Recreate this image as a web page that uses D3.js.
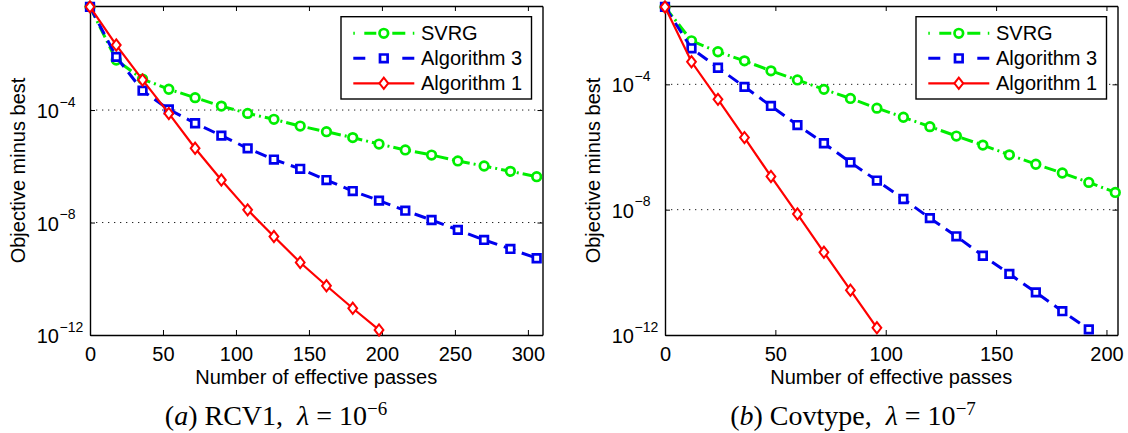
<!DOCTYPE html>
<html>
<head>
<meta charset="utf-8">
<script src="https://cdn.jsdelivr.net/npm/d3@7"></script>
<style>
  body { margin: 0; background: #fff; }
  svg { display: block; font-family: "Liberation Sans", Arial, sans-serif; }
</style>
</head>
<body>
<svg id="chart" width="1128" height="433"></svg>
<script>
// values: x = effective passes, y = log10(objective - best)
var rcv1_passes = [0, 18, 36, 54, 72, 90, 108, 126, 144, 162, 180, 198, 216, 234, 252, 270, 288, 306];
var rcv1_svrg = [-0.33, -2.22, -2.90, -3.26, -3.56, -3.86, -4.12, -4.33, -4.57, -4.77, -4.98, -5.21, -5.42, -5.60, -5.81, -5.99, -6.18, -6.37];
var rcv1_alg3 = [-0.33, -2.11, -3.31, -3.98, -4.47, -4.91, -5.36, -5.76, -6.09, -6.49, -6.88, -7.22, -7.58, -7.91, -8.26, -8.62, -8.94, -9.27];
var rcv1_alg1 = [-0.33, -1.69, -2.93, -4.12, -5.36, -6.49, -7.55, -8.50, -9.42, -10.25, -11.05, -11.82];

var cov_passes = [0, 12, 24, 36, 48, 60, 72, 84, 96, 108, 120, 132, 144, 156, 168, 180, 192, 204];
var cov_svrg = [-1.53, -2.61, -2.96, -3.25, -3.57, -3.86, -4.16, -4.45, -4.76, -5.05, -5.35, -5.65, -5.94, -6.25, -6.55, -6.83, -7.13, -7.45];
var cov_alg3 = [-1.53, -2.85, -3.47, -4.08, -4.69, -5.30, -5.88, -6.49, -7.07, -7.66, -8.27, -8.85, -9.47, -10.05, -10.64, -11.24, -11.82];
var cov_alg1 = [-1.53, -3.28, -4.48, -5.70, -6.94, -8.14, -9.36, -10.57, -11.77];

var rcv1_x_ticks = [0, 50, 100, 150, 200, 250, 300];
var cov_x_ticks = [0, 50, 100, 150, 200];
var y_ticks = [1e-12, 1e-8, 1e-4];
var y_tick_exps = ["\u221212", "\u22128", "\u22124"];
var grid_values = [1e-8, 1e-4];
var legend_names = ["SVRG", "Algorithm 3", "Algorithm 1"];

// look of each method (matlab-ish)
var styles = {
  "SVRG":        { color: "#00ee00", width: 3.0, dash: "12,4,2,4", legend_dash: "1.5,9.5,12,16,13,7.5,1.5", marker: "circle" },
  "Algorithm 3": { color: "#0000ee", width: 3.0, dash: "12,7",     legend_dash: "12,37",                   marker: "square" },
  "Algorithm 1": { color: "#ff0000", width: 2.2, dash: null,       legend_dash: null,                      marker: "diamond" }
};

var svg = d3.select("#chart");
svg.append("rect").attr("width", 1128).attr("height", 433).attr("fill", "#fff");

function marker_path(type) {
  if (type == "circle") return d3.symbol().type(d3.symbolCircle).size(Math.PI * 4.3 * 4.3)();
  if (type == "square") return "M-3.8,-3.8H3.8V3.8H-3.8Z";
  return "M0,-5.6L4.4,0L0,5.6L-4.4,0Z";
}

function draw_panel(p) {
  var x = d3.scaleLinear().domain([0, p.xmax]).range([p.left, p.right]);
  var y = d3.scaleLog().domain([1e-12, p.ytop]).range([p.bottom, p.top]);
  var g = svg.append("g");

  // dotted grid at the labelled decades
  g.selectAll(".grid").data(grid_values).enter().append("line")
    .attr("x1", p.left).attr("x2", p.right)
    .attr("y1", function(d) { return y(d); }).attr("y2", function(d) { return y(d); })
    .attr("stroke", "#222").attr("stroke-width", 1).attr("stroke-dasharray", "1.3,4.7");

  // box with inward ticks on all four sides
  var bottom = g.append("g").attr("transform", "translate(0," + p.bottom + ")")
    .call(d3.axisBottom(x).tickValues(p.xticks).tickSize(-5).tickSizeOuter(0).tickPadding(12));
  var top = g.append("g").attr("transform", "translate(0," + p.top + ")")
    .call(d3.axisTop(x).tickValues(p.xticks).tickSize(-5).tickSizeOuter(0).tickFormat(""));
  var left = g.append("g").attr("transform", "translate(" + p.left + ",0)")
    .call(d3.axisLeft(y).tickValues(y_ticks).tickSize(-5).tickSizeOuter(0).tickFormat(""));
  var right = g.append("g").attr("transform", "translate(" + p.right + ",0)")
    .call(d3.axisRight(y).tickValues(y_ticks).tickSize(-5).tickSizeOuter(0).tickFormat(""));

  [bottom, top, left, right].forEach(function(a) {
    a.select(".domain").attr("stroke", "#000").attr("stroke-width", 1.4);
    a.selectAll(".tick line").attr("stroke", "#000").attr("stroke-width", 1);
  });
  bottom.selectAll(".tick text")
    .attr("font-family", "Liberation Sans, Arial, sans-serif")
    .attr("font-size", 20).attr("fill", "#000");

  // 10^k labels on the log axis
  left.selectAll(".tick").each(function(d, i) {
    var t = d3.select(this);
    t.append("text").attr("x", -31).attr("y", 7.5).attr("text-anchor", "end")
      .attr("font-family", "Liberation Sans, Arial, sans-serif").attr("font-size", 20).attr("fill", "#000")
      .text("10");
    t.append("text").attr("x", -30.5).attr("y", -4).attr("text-anchor", "start")
      .attr("font-family", "Liberation Sans, Arial, sans-serif").attr("font-size", 14).attr("fill", "#000")
      .text(y_tick_exps[i]);
  });

  // axis titles
  g.append("text").attr("x", (p.left + p.right) / 2).attr("y", p.bottom + 49)
    .attr("text-anchor", "middle").attr("font-size", 20).text("Number of effective passes");
  g.append("text")
    .attr("transform", "translate(" + (p.left - 65.5) + "," + ((p.top + p.bottom) / 2) + ") rotate(-90)")
    .attr("text-anchor", "middle").attr("font-size", 20).text("Objective minus best");

  // series
  var line = d3.line()
    .x(function(d) { return x(d[0]); })
    .y(function(d) { return y(Math.pow(10, d[1])); });

  p.series.forEach(function(s) {
    var st = styles[s.name];
    var pts = s.values.map(function(v, i) { return [s.passes[i], v]; });
    g.append("path").datum(pts).attr("d", line)
      .attr("fill", "none").attr("stroke", st.color).attr("stroke-width", st.width)
      .attr("stroke-dasharray", st.dash);
    g.selectAll(null).data(pts).enter().append("path")
      .attr("d", marker_path(st.marker))
      .attr("transform", function(d) { return "translate(" + x(d[0]) + "," + y(Math.pow(10, d[1])) + ")"; })
      .attr("fill", "#fff").attr("stroke", st.color).attr("stroke-width", st.marker == "diamond" ? 2 : 2.7);
  });

  // legend
  var lx = p.right - 11 - 190.5, ly = 16.7;
  var lg = g.append("g").attr("transform", "translate(" + lx + "," + ly + ")");
  lg.append("rect").attr("width", 190.5).attr("height", 82.3)
    .attr("fill", "#fff").attr("stroke", "#000").attr("stroke-width", 1.4);
  legend_names.forEach(function(name, i) {
    var st = styles[name];
    var cy = 16.6 + i * 25;
    lg.append("line").attr("x1", 12.3).attr("x2", 73.3).attr("y1", cy).attr("y2", cy)
      .attr("stroke", st.color).attr("stroke-width", st.width)
      .attr("stroke-dasharray", st.legend_dash);
    lg.append("path").attr("d", marker_path(st.marker))
      .attr("transform", "translate(42.8," + cy + ")")
      .attr("fill", "#fff").attr("stroke", st.color).attr("stroke-width", st.marker == "diamond" ? 2 : 2.7);
    lg.append("text").attr("x", 80).attr("y", cy + 7).attr("font-size", 20).text(name);
  });

  // caption under the panel
  var cap = svg.append("text").attr("x", p.cap_x).attr("y", 425).attr("text-anchor", "middle")
    .attr("font-family", "Liberation Serif, Times New Roman, serif").attr("font-size", 28).attr("fill", "#000");
  cap.append("tspan").text("(");
  cap.append("tspan").attr("font-style", "italic").text(p.cap_letter);
  cap.append("tspan").text(") " + p.cap_name + ",\u00a0\u00a0");
  cap.append("tspan").attr("font-style", "italic").text("\u03bb");
  cap.append("tspan").text("\u00a0=\u00a010");
  cap.append("tspan").attr("font-size", 19).attr("dy", -10).text(p.cap_exp);
}

draw_panel({
  left: 90, right: 542.5, top: 6, bottom: 335, xmax: 310, ytop: Math.pow(10, -0.3),
  xticks: rcv1_x_ticks,
  series: [
    { name: "SVRG", passes: rcv1_passes, values: rcv1_svrg },
    { name: "Algorithm 3", passes: rcv1_passes, values: rcv1_alg3 },
    { name: "Algorithm 1", passes: rcv1_passes, values: rcv1_alg1 }
  ],
  cap_x: 276, cap_letter: "a", cap_name: "RCV1", cap_exp: "\u22126"
});

draw_panel({
  left: 665, right: 1117.5, top: 6, bottom: 335, xmax: 205, ytop: Math.pow(10, -1.5),
  xticks: cov_x_ticks,
  series: [
    { name: "SVRG", passes: cov_passes, values: cov_svrg },
    { name: "Algorithm 3", passes: cov_passes, values: cov_alg3 },
    { name: "Algorithm 1", passes: cov_passes, values: cov_alg1 }
  ],
  cap_x: 853, cap_letter: "b", cap_name: "Covtype", cap_exp: "\u22127"
});
</script>
</body>
</html>
